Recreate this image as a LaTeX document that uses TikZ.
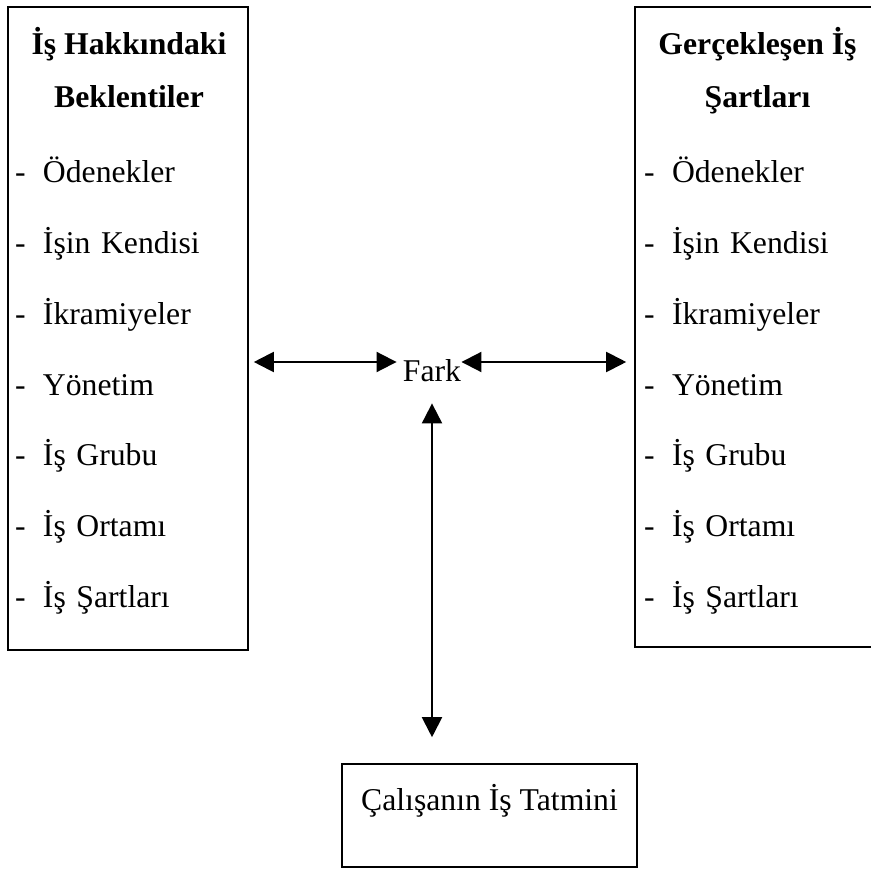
\documentclass[tikz,border=0pt]{standalone}
\usepackage{fontspec}
\setmainfont{Liberation Serif}
\usetikzlibrary{arrows.meta}

\begin{document}
\begin{tikzpicture}[x=0.5pt,y=0.5pt,>={Triangle[length=10pt,width=10pt]},node distance=35.35pt,
  every node/.style={inner sep=0pt,font=\fontsize{15.85}{19}\selectfont},
  box/.style={draw,line width=0.8pt},
  head/.style={font=\fontsize{15.85}{19}\selectfont\bfseries,text height=11pt,text depth=3.5pt},
  item/.style={text width=105pt,align=left,text height=11pt,text depth=3.5pt}]

\useasboundingbox (0,0) rectangle (871,868);

\node[box,minimum width=120pt,minimum height=321.5pt]   (lbox) at (128,539.5) {};
 \node[box,minimum width=122.5pt,minimum height=320pt] (rbox) at (757.5,541) {};
	\node[box,minimum width=147.5pt,minimum height=51.5pt,text height=11pt,text depth=16.5pt] (sat) at (489.5,52.5) {Çalışanın İş Tatmini};
	\node[text height=19pt,text depth=0pt,anchor=base] (fark) at (432,487) {Fark};

% left box
	\node[head] (lh1) at (129,820.5) {İş Hakkındaki};
	\node[head] (lh2) [below of=lh1,node distance=26.5pt] {Beklentiler};
	\node[item] (l1) at (120,692.5) {\makebox[14pt][l]{-}Ödenekler};
	\node[item] (l2) [below of=l1] {\makebox[14pt][l]{-}İşin Kendisi};
	\node[item] (l3) [below of=l2] {\makebox[14pt][l]{-}İkramiyeler};
	\node[item] (l4) [below of=l3] {\makebox[14pt][l]{-}Yönetim};
	\node[item] (l5) [below of=l4] {\makebox[14pt][l]{-}İş Grubu};
	\node[item] (l6) [below of=l5] {\makebox[14pt][l]{-}İş Ortamı};
	\node[item] (l7) [below of=l6] {\makebox[14pt][l]{-}İş Şartları};

% right box
	\node[head] (rh1) at (757.5,820.5) {Gerçekleşen İş};
	\node[head] (rh2) [below of=rh1,node distance=26.5pt] {Şartları};
	\node[item] (r1) at (749,692.5) {\makebox[14pt][l]{-}Ödenekler};
	\node[item] (r2) [below of=r1] {\makebox[14pt][l]{-}İşin Kendisi};
	\node[item] (r3) [below of=r2] {\makebox[14pt][l]{-}İkramiyeler};
	\node[item] (r4) [below of=r3] {\makebox[14pt][l]{-}Yönetim};
	\node[item] (r5) [below of=r4] {\makebox[14pt][l]{-}İş Grubu};
	\node[item] (r6) [below of=r5] {\makebox[14pt][l]{-}İş Ortamı};
	\node[item] (r7) [below of=r6] {\makebox[14pt][l]{-}İş Şartları};

	\path[<->,line width=1pt] (lbox.east |- fark.west) edge[shorten <=2.5pt,shorten >=3pt] (fark.west)
					(fark.east) edge[shorten >=4pt] (rbox.west |- fark.east)
					(fark.south) edge[shorten <=11pt,shorten >=13pt] (fark.south |- sat.north);

\end{tikzpicture}
\end{document}
